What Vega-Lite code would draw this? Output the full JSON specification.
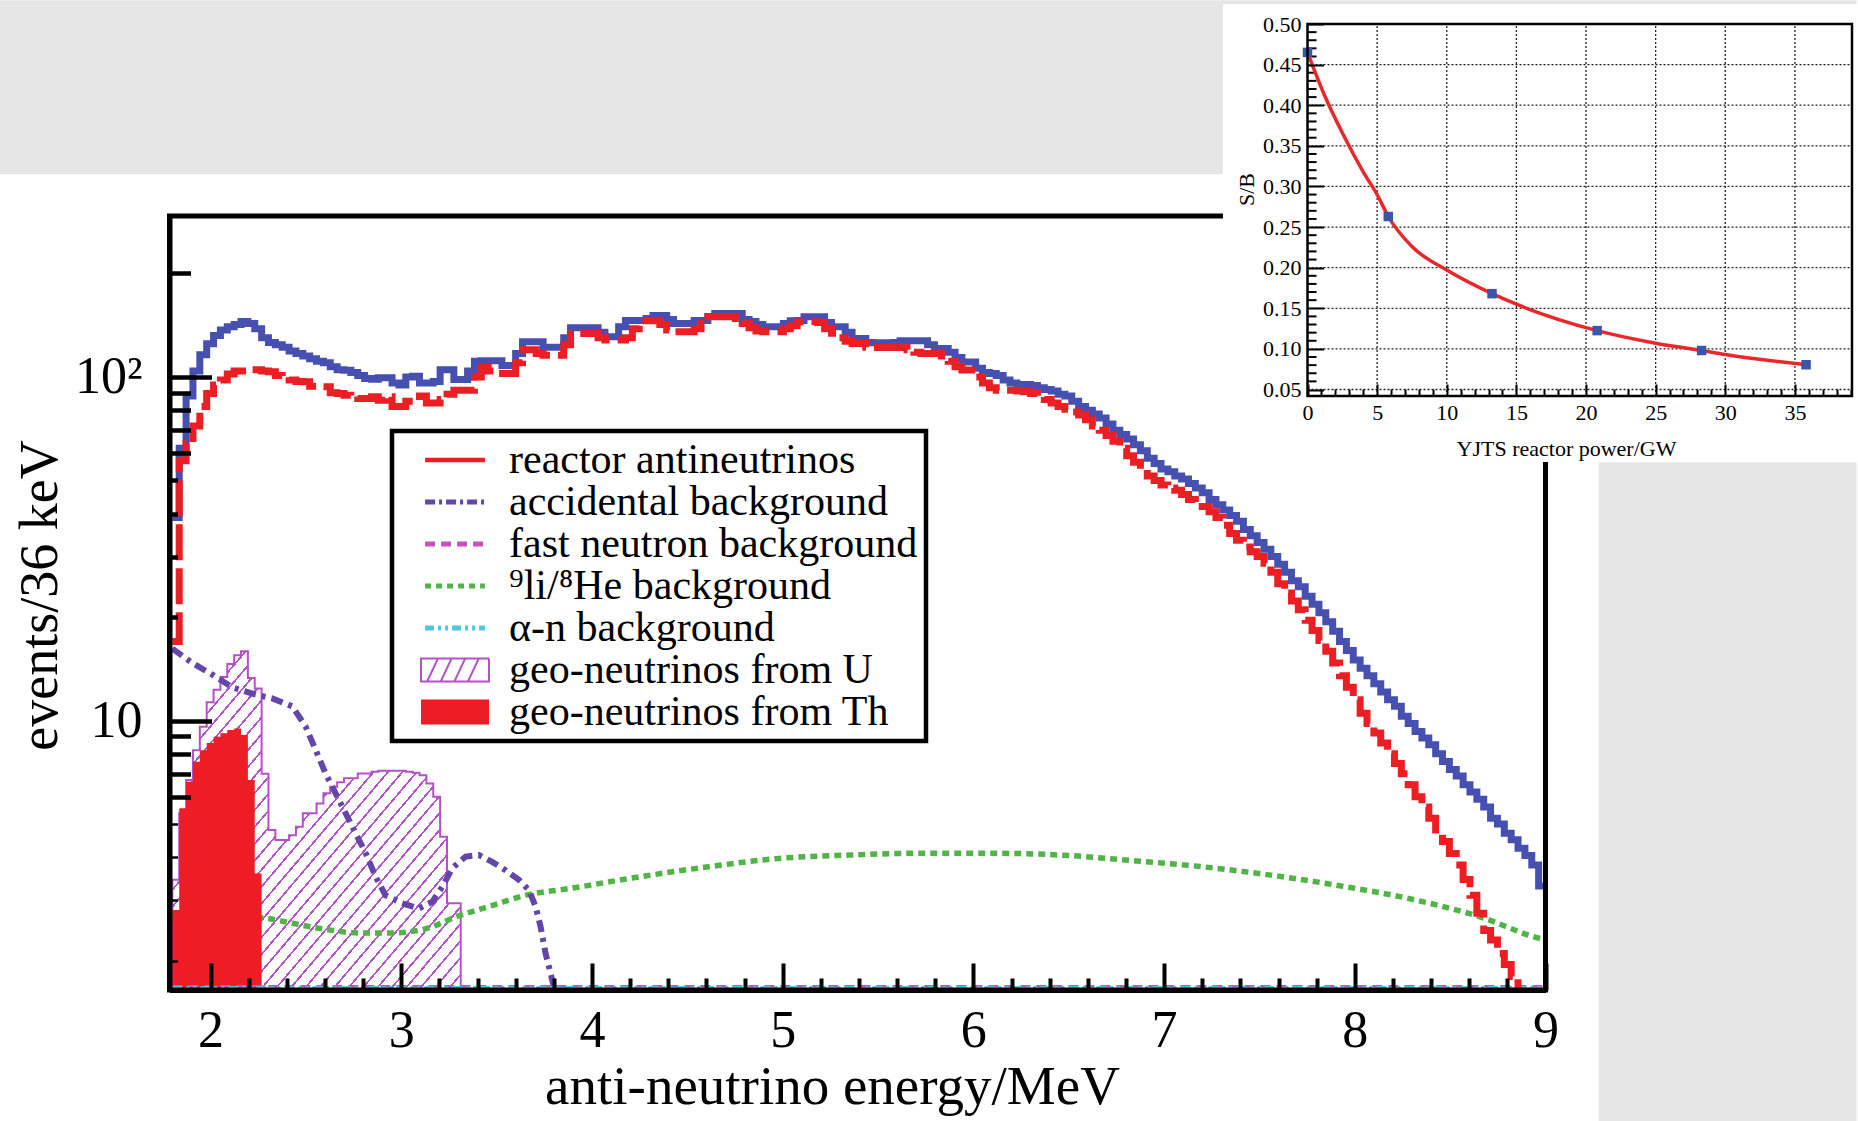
{
"$schema": "https://vega.github.io/schema/vega-lite/v6.json",
"width": 1858, "height": 1121, "autosize": {"type": "none"}, "padding": 0,
"background": "white",
"config": {"view": {"stroke": null}, "font": "Liberation Serif",
  "axis": {"labelFont": "Liberation Serif", "titleFont": "Liberation Serif", "titleFontWeight": "normal", "labelColor": "black", "titleColor": "black", "grid": false},
  "legend": {"strokeWidth": 4.5}},
"datasets": {
"spec": [
{"e":1.8,"t":39,"r":17},{"e":1.836,"t":62,"r":57},{"e":1.872,"t":88,"r":64},{"e":1.908,"t":104,"r":72},{"e":1.944,"t":116,"r":82},{"e":1.98,"t":125,"r":89.5},{"e":2.016,"t":132,"r":94.7},{"e":2.052,"t":137,"r":98},{"e":2.088,"t":140,"r":102},{"e":2.124,"t":142,"r":104},
{"e":2.16,"t":145,"r":104},{"e":2.196,"t":143,"r":105},{"e":2.232,"t":138,"r":105},{"e":2.268,"t":130,"r":104},{"e":2.304,"t":126,"r":103.5},{"e":2.34,"t":124,"r":101},{"e":2.376,"t":122,"r":100},{"e":2.412,"t":119,"r":98},{"e":2.448,"t":117,"r":97},{"e":2.484,"t":115,"r":96.8},
{"e":2.52,"t":113,"r":94},{"e":2.556,"t":111,"r":94},{"e":2.592,"t":110,"r":93.6},{"e":2.628,"t":107,"r":90},{"e":2.664,"t":105,"r":89.5},{"e":2.7,"t":104.5,"r":88.5},{"e":2.736,"t":103,"r":88},{"e":2.772,"t":101,"r":86.6},{"e":2.808,"t":99,"r":86.6},{"e":2.844,"t":98.5,"r":87.5},
{"e":2.88,"t":99.5,"r":85.6},{"e":2.916,"t":99.5,"r":87.5},{"e":2.952,"t":96,"r":82},{"e":2.988,"t":94.7,"r":82},{"e":3.024,"t":100,"r":85},{"e":3.06,"t":100.5,"r":85},{"e":3.096,"t":96,"r":88},{"e":3.132,"t":96,"r":84},{"e":3.168,"t":97,"r":84},{"e":3.204,"t":105,"r":86},
{"e":3.24,"t":105,"r":89},{"e":3.276,"t":98.3,"r":91.5},{"e":3.312,"t":98.3,"r":91.5},{"e":3.348,"t":104,"r":91.5},{"e":3.384,"t":111,"r":100},{"e":3.42,"t":111.4,"r":106.6},{"e":3.456,"t":111.4,"r":104},{"e":3.492,"t":111.4,"r":102.4},{"e":3.528,"t":108,"r":102.4},{"e":3.564,"t":108,"r":102.4},
{"e":3.6,"t":117,"r":110},{"e":3.636,"t":126.5,"r":120},{"e":3.672,"t":126.5,"r":120},{"e":3.708,"t":126.5,"r":117},{"e":3.744,"t":122,"r":115.7},{"e":3.78,"t":122,"r":115.7},{"e":3.816,"t":122,"r":115.7},{"e":3.852,"t":130,"r":124},{"e":3.888,"t":139,"r":133.8},{"e":3.924,"t":139,"r":133.8},
{"e":3.96,"t":139,"r":133.8},{"e":3.996,"t":139,"r":133.8},{"e":4.032,"t":135,"r":130},{"e":4.068,"t":131,"r":128},{"e":4.104,"t":131,"r":128},{"e":4.14,"t":140,"r":128},{"e":4.176,"t":146,"r":130},{"e":4.212,"t":146,"r":138},{"e":4.248,"t":146,"r":145.6},{"e":4.284,"t":148,"r":145.6},
{"e":4.32,"t":151,"r":145.6},{"e":4.356,"t":151,"r":142},{"e":4.392,"t":147,"r":137},{"e":4.428,"t":143,"r":135.3},{"e":4.464,"t":143,"r":135.3},{"e":4.5,"t":143,"r":135.3},{"e":4.536,"t":146,"r":138},{"e":4.572,"t":146,"r":143},{"e":4.608,"t":150,"r":149.6},{"e":4.644,"t":153,"r":149.6},
{"e":4.68,"t":153,"r":149.6},{"e":4.716,"t":153,"r":149.6},{"e":4.752,"t":153,"r":148},{"e":4.788,"t":147,"r":143},{"e":4.824,"t":145,"r":139},{"e":4.86,"t":142,"r":136},{"e":4.896,"t":140,"r":135.3},{"e":4.932,"t":140,"r":135.3},{"e":4.968,"t":140,"r":135.3},{"e":5.004,"t":143,"r":138},
{"e":5.04,"t":145.6,"r":141},{"e":5.076,"t":146,"r":144.7},{"e":5.112,"t":149.6,"r":144.7},{"e":5.148,"t":149.6,"r":144.7},{"e":5.184,"t":149.6,"r":144},{"e":5.22,"t":144,"r":138},{"e":5.256,"t":140,"r":134},{"e":5.292,"t":140,"r":130},{"e":5.328,"t":135,"r":127},{"e":5.364,"t":129.4,"r":125.1},
{"e":5.4,"t":129.4,"r":125.1},{"e":5.436,"t":126,"r":122},{"e":5.472,"t":125.7,"r":121.9},{"e":5.508,"t":125.7,"r":121.9},{"e":5.544,"t":125.7,"r":121.9},{"e":5.58,"t":126,"r":121.9},{"e":5.616,"t":127.4,"r":121.9},{"e":5.652,"t":127.4,"r":120},{"e":5.688,"t":127.4,"r":118},{"e":5.724,"t":127.4,"r":117},
{"e":5.76,"t":124,"r":117},{"e":5.796,"t":121,"r":117},{"e":5.832,"t":121,"r":115},{"e":5.868,"t":118,"r":111},{"e":5.904,"t":114,"r":107},{"e":5.94,"t":110.6,"r":104.7},{"e":5.976,"t":110.6,"r":104.7},{"e":6.012,"t":106,"r":100},{"e":6.048,"t":103,"r":96},{"e":6.084,"t":102.4,"r":93},
{"e":6.12,"t":101,"r":91.5},{"e":6.156,"t":98,"r":91.5},{"e":6.192,"t":96,"r":91.5},{"e":6.228,"t":95,"r":91},{"e":6.264,"t":95,"r":90.5},{"e":6.3,"t":94.5,"r":89.5},{"e":6.336,"t":93,"r":88},{"e":6.372,"t":92,"r":86},{"e":6.408,"t":91,"r":84},{"e":6.444,"t":89,"r":82},
{"e":6.48,"t":88,"r":80.5},{"e":6.516,"t":85,"r":79},{"e":6.552,"t":82,"r":77.5},{"e":6.588,"t":80,"r":75},{"e":6.624,"t":78,"r":72},{"e":6.66,"t":76,"r":70},{"e":6.696,"t":73,"r":67.5},{"e":6.732,"t":70,"r":65},{"e":6.768,"t":68,"r":62},{"e":6.804,"t":66,"r":59},
{"e":6.84,"t":63.5,"r":56.5},{"e":6.876,"t":61,"r":54},{"e":6.912,"t":58,"r":51.5},{"e":6.948,"t":56,"r":50},{"e":6.984,"t":54,"r":48.5},{"e":7.02,"t":53,"r":47.5},{"e":7.056,"t":51.5,"r":46.8},{"e":7.092,"t":50.5,"r":45.5},{"e":7.128,"t":49,"r":44},{"e":7.164,"t":47.5,"r":43},
{"e":7.2,"t":46,"r":42},{"e":7.236,"t":44,"r":40.5},{"e":7.272,"t":42.5,"r":39},{"e":7.308,"t":41,"r":37},{"e":7.344,"t":39.5,"r":35},{"e":7.38,"t":38,"r":33.5},{"e":7.416,"t":36,"r":32},{"e":7.452,"t":34.5,"r":31},{"e":7.488,"t":33,"r":30},{"e":7.524,"t":31.5,"r":28.7},
{"e":7.56,"t":30,"r":27},{"e":7.596,"t":28.5,"r":25},{"e":7.632,"t":27,"r":23.5},{"e":7.668,"t":25.5,"r":22.3},{"e":7.704,"t":24.5,"r":21},{"e":7.74,"t":23,"r":19.6},{"e":7.776,"t":21.8,"r":18.3},{"e":7.812,"t":20.6,"r":17.1},{"e":7.848,"t":19.4,"r":15.9},{"e":7.884,"t":18.2,"r":14.7},
{"e":7.92,"t":17,"r":13.5},{"e":7.956,"t":16,"r":12.5},{"e":7.992,"t":15,"r":11.5},{"e":8.028,"t":14.2,"r":10.5},{"e":8.064,"t":13.5,"r":9.8},{"e":8.1,"t":12.8,"r":9.2},{"e":8.136,"t":12.1,"r":8.6},{"e":8.172,"t":11.5,"r":8},{"e":8.208,"t":11,"r":7.5},{"e":8.244,"t":10.3,"r":7},
{"e":8.28,"t":9.8,"r":6.5},{"e":8.316,"t":9.3,"r":6},{"e":8.352,"t":8.9,"r":5.6},{"e":8.388,"t":8.5,"r":5.2},{"e":8.424,"t":8,"r":4.8},{"e":8.46,"t":7.6,"r":4.45},{"e":8.496,"t":7.2,"r":4.1},{"e":8.532,"t":6.9,"r":3.8},{"e":8.568,"t":6.5,"r":3.45},{"e":8.604,"t":6.2,"r":3.1},
{"e":8.64,"t":5.9,"r":2.75},{"e":8.676,"t":5.6,"r":2.45},{"e":8.712,"t":5.2,"r":2.3},{"e":8.748,"t":5,"r":2.1},{"e":8.784,"t":4.7,"r":1.95},{"e":8.82,"t":4.5,"r":1.8},{"e":8.856,"t":4.25,"r":1.65},{"e":8.892,"t":4.05},{"e":8.928,"t":3.8},{"e":8.964,"t":3.3},
{"e":9,"t":3.3}
],
"geo": [
{"e":1.8,"u":3.44,"th":2.81},{"e":1.836,"u":5.37,"th":5.56},{"e":1.872,"u":6.71,"th":6.64},{"e":1.908,"u":8.2,"th":7.59},{"e":1.944,"u":9.6,"th":8.2},{"e":1.98,"u":11.3,"th":8.6},{"e":2.016,"u":12.3,"th":8.97},{"e":2.052,"u":13.4,"th":9.18},{"e":2.088,"u":14.6,"th":9.38},{"e":2.124,"u":15.5,"th":9.49},
{"e":2.16,"u":15.9,"th":9.08},{"e":2.196,"u":13.3,"th":6.71},{"e":2.232,"u":12.4,"th":3.59},{"e":2.268,"u":7.0,"th":3.59},{"e":2.304,"u":4.8},{"e":2.34,"u":4.49},{"e":2.376,"u":4.49},{"e":2.412,"u":4.64},{"e":2.448,"u":4.91},{"e":2.484,"u":5.37},
{"e":2.52,"u":5.37},{"e":2.556,"u":5.74},{"e":2.592,"u":6.14},{"e":2.628,"u":6.42},{"e":2.664,"u":6.61},{"e":2.7,"u":6.79},{"e":2.736,"u":6.79},{"e":2.772,"u":7.01},{"e":2.808,"u":7.01},{"e":2.844,"u":7.1},
{"e":2.88,"u":7.14},{"e":2.916,"u":7.14},{"e":2.952,"u":7.14},{"e":2.988,"u":7.14},{"e":3.024,"u":7.1},{"e":3.06,"u":7.05},{"e":3.096,"u":6.93},{"e":3.132,"u":6.56},{"e":3.168,"u":6.0},{"e":3.204,"u":4.59},
{"e":3.24,"u":2.94},{"e":3.276,"u":2.94},{"e":3.312,"u":2.94}
],
"acc": [
{"e":1.8,"v":16.2},{"e":1.905,"v":14.7},{"e":2.01,"v":13.6},{"e":2.114,"v":12.5},{"e":2.237,"v":11.9},{"e":2.324,"v":11.6},{"e":2.429,"v":11.0},{"e":2.499,"v":9.6},{"e":2.552,"v":8.2},{"e":2.604,"v":7.0},
{"e":2.656,"v":6.14},{"e":2.709,"v":5.37},{"e":2.761,"v":4.7},{"e":2.814,"v":4.11},{"e":2.866,"v":3.51},{"e":2.918,"v":3.1},{"e":3.005,"v":2.94},{"e":3.093,"v":2.84},{"e":3.163,"v":2.97},{"e":3.215,"v":3.28},
{"e":3.268,"v":3.72},{"e":3.338,"v":4.02},{"e":3.408,"v":4.06},{"e":3.477,"v":3.88},{"e":3.547,"v":3.67},{"e":3.617,"v":3.44},{"e":3.67,"v":3.21},{"e":3.705,"v":2.87},{"e":3.731,"v":2.51},{"e":3.757,"v":2.1},
{"e":3.783,"v":1.84},{"e":3.8,"v":1.68},{"e":3.82,"v":1.65}
],
"li": [
{"e":1.8,"v":2.75},{"e":2.0,"v":2.72},{"e":2.29,"v":2.66},{"e":2.43,"v":2.57},{"e":2.6,"v":2.47},{"e":2.78,"v":2.41},{"e":2.95,"v":2.41},{"e":3.13,"v":2.48},{"e":3.3,"v":2.7},{"e":3.48,"v":2.9},
{"e":3.65,"v":3.1},{"e":3.89,"v":3.25},{"e":4.25,"v":3.51},{"e":4.62,"v":3.76},{"e":4.98,"v":3.97},{"e":5.35,"v":4.06},{"e":5.72,"v":4.11},{"e":6.09,"v":4.11},{"e":6.46,"v":4.06},{"e":6.82,"v":3.92},
{"e":7.19,"v":3.76},{"e":7.56,"v":3.55},{"e":7.93,"v":3.3},{"e":8.3,"v":3.02},{"e":8.66,"v":2.68},{"e":8.96,"v":2.33},{"e":9.0,"v":2.3}
],
"fn": [{"e":1.8,"v":1.685},{"e":9.0,"v":1.685}],
"an": [{"e":1.8,"v":1.675},{"e":9.0,"v":1.675}],
"leg": [{"cat":"reactor antineutrinos"},{"cat":"accidental background"},{"cat":"fast neutron background"},{"cat":"⁹li/⁸He background"},{"cat":"α-n background"},{"cat":"geo-neutrinos from U"},{"cat":"geo-neutrinos from Th"}],
"sbc": [{"p":0,"sb":0.465},{"p":1.25,"sb":0.411},{"p":2.5,"sb":0.366},{"p":4,"sb":0.318},{"p":5,"sb":0.29},{"p":5.8,"sb":0.263},{"p":7.5,"sb":0.226},{"p":10,"sb":0.197},{"p":13.25,"sb":0.168},{"p":15,"sb":0.155},{"p":20.8,"sb":0.1225},{"p":25,"sb":0.107},{"p":28.3,"sb":0.098},{"p":30,"sb":0.093},{"p":35.8,"sb":0.0805}],
"sbp": [{"p":0,"sb":0.465},{"p":5.8,"sb":0.263},{"p":13.25,"sb":0.168},{"p":20.8,"sb":0.1225},{"p":28.3,"sb":0.098},{"p":35.8,"sb":0.0805}],
"gx": [{"g":5},{"g":10},{"g":15},{"g":20},{"g":25},{"g":30},{"g":35}],
"gy": [{"g":0.05},{"g":0.1},{"g":0.15},{"g":0.2},{"g":0.25},{"g":0.3},{"g":0.35},{"g":0.4},{"g":0.45}],
"ty": [{"g":0.06},{"g":0.07},{"g":0.08},{"g":0.09},{"g":0.11},{"g":0.12},{"g":0.13},{"g":0.14},{"g":0.16},{"g":0.17},{"g":0.18},{"g":0.19},{"g":0.21},{"g":0.22},{"g":0.23},{"g":0.24},{"g":0.26},{"g":0.27},{"g":0.28},{"g":0.29},{"g":0.31},{"g":0.32},{"g":0.33},{"g":0.34},{"g":0.36},{"g":0.37},{"g":0.38},{"g":0.39},{"g":0.41},{"g":0.42},{"g":0.43},{"g":0.44},{"g":0.46},{"g":0.47},{"g":0.48},{"g":0.49}]
},
"layer": [
{
"layer": [
{"data": {"values": [{}]},
 "mark": {"type": "rect", "fill": "#e6e6e6", "stroke": null},
 "encoding": {"x": {"datum": 0.8915, "type": "quantitative", "scale": {"type":"linear","domain":[1.785,9],"range":[169.5,1545.5],"nice":false,"zero":false}},
  "x2": {"datum": 10.631},
  "y": {"datum": 1248.6, "type": "quantitative", "scale": {"type":"log","domain":[1.644,294],"range":[990,216],"nice":false}},
  "y2": {"datum": 389.1}}},
{"data": {"values": [{}]},
 "mark": {"type": "rect", "fill": "#e6e6e6", "stroke": null},
 "encoding": {"x": {"datum": 9.2787, "type": "quantitative"},
  "x2": {"datum": 10.631},
  "y": {"datum": 56.5, "type": "quantitative"},
  "y2": {"datum": 0.6835}}},
{"data": {"name": "geo"},
 "mark": {"type": "area", "interpolate": "step-after", "stroke": "#b450c8", "strokeWidth": 2, "fillOpacity": 1,
  "fill": {"gradient": "linear", "x1": 0, "y1": 0, "x2": 1, "y2": 1, "stops": [
{"offset":0,"color":"#ffffff"},
{"offset":0.025,"color":"#ffffff"},{"offset":0.025,"color":"#b450c8"},{"offset":0.029,"color":"#b450c8"},{"offset":0.029,"color":"#ffffff"},
{"offset":0.05,"color":"#ffffff"},{"offset":0.05,"color":"#b450c8"},{"offset":0.054,"color":"#b450c8"},{"offset":0.054,"color":"#ffffff"},
{"offset":0.075,"color":"#ffffff"},{"offset":0.075,"color":"#b450c8"},{"offset":0.079,"color":"#b450c8"},{"offset":0.079,"color":"#ffffff"},
{"offset":0.1,"color":"#ffffff"},{"offset":0.1,"color":"#b450c8"},{"offset":0.104,"color":"#b450c8"},{"offset":0.104,"color":"#ffffff"},
{"offset":0.125,"color":"#ffffff"},{"offset":0.125,"color":"#b450c8"},{"offset":0.129,"color":"#b450c8"},{"offset":0.129,"color":"#ffffff"},
{"offset":0.15,"color":"#ffffff"},{"offset":0.15,"color":"#b450c8"},{"offset":0.154,"color":"#b450c8"},{"offset":0.154,"color":"#ffffff"},
{"offset":0.175,"color":"#ffffff"},{"offset":0.175,"color":"#b450c8"},{"offset":0.179,"color":"#b450c8"},{"offset":0.179,"color":"#ffffff"},
{"offset":0.2,"color":"#ffffff"},{"offset":0.2,"color":"#b450c8"},{"offset":0.204,"color":"#b450c8"},{"offset":0.204,"color":"#ffffff"},
{"offset":0.225,"color":"#ffffff"},{"offset":0.225,"color":"#b450c8"},{"offset":0.229,"color":"#b450c8"},{"offset":0.229,"color":"#ffffff"},
{"offset":0.25,"color":"#ffffff"},{"offset":0.25,"color":"#b450c8"},{"offset":0.254,"color":"#b450c8"},{"offset":0.254,"color":"#ffffff"},
{"offset":0.275,"color":"#ffffff"},{"offset":0.275,"color":"#b450c8"},{"offset":0.279,"color":"#b450c8"},{"offset":0.279,"color":"#ffffff"},
{"offset":0.3,"color":"#ffffff"},{"offset":0.3,"color":"#b450c8"},{"offset":0.304,"color":"#b450c8"},{"offset":0.304,"color":"#ffffff"},
{"offset":0.325,"color":"#ffffff"},{"offset":0.325,"color":"#b450c8"},{"offset":0.329,"color":"#b450c8"},{"offset":0.329,"color":"#ffffff"},
{"offset":0.35,"color":"#ffffff"},{"offset":0.35,"color":"#b450c8"},{"offset":0.354,"color":"#b450c8"},{"offset":0.354,"color":"#ffffff"},
{"offset":0.375,"color":"#ffffff"},{"offset":0.375,"color":"#b450c8"},{"offset":0.379,"color":"#b450c8"},{"offset":0.379,"color":"#ffffff"},
{"offset":0.4,"color":"#ffffff"},{"offset":0.4,"color":"#b450c8"},{"offset":0.404,"color":"#b450c8"},{"offset":0.404,"color":"#ffffff"},
{"offset":0.425,"color":"#ffffff"},{"offset":0.425,"color":"#b450c8"},{"offset":0.429,"color":"#b450c8"},{"offset":0.429,"color":"#ffffff"},
{"offset":0.45,"color":"#ffffff"},{"offset":0.45,"color":"#b450c8"},{"offset":0.454,"color":"#b450c8"},{"offset":0.454,"color":"#ffffff"},
{"offset":0.475,"color":"#ffffff"},{"offset":0.475,"color":"#b450c8"},{"offset":0.479,"color":"#b450c8"},{"offset":0.479,"color":"#ffffff"},
{"offset":0.5,"color":"#ffffff"},{"offset":0.5,"color":"#b450c8"},{"offset":0.504,"color":"#b450c8"},{"offset":0.504,"color":"#ffffff"},
{"offset":0.525,"color":"#ffffff"},{"offset":0.525,"color":"#b450c8"},{"offset":0.529,"color":"#b450c8"},{"offset":0.529,"color":"#ffffff"},
{"offset":0.55,"color":"#ffffff"},{"offset":0.55,"color":"#b450c8"},{"offset":0.554,"color":"#b450c8"},{"offset":0.554,"color":"#ffffff"},
{"offset":0.575,"color":"#ffffff"},{"offset":0.575,"color":"#b450c8"},{"offset":0.579,"color":"#b450c8"},{"offset":0.579,"color":"#ffffff"},
{"offset":0.6,"color":"#ffffff"},{"offset":0.6,"color":"#b450c8"},{"offset":0.604,"color":"#b450c8"},{"offset":0.604,"color":"#ffffff"},
{"offset":0.625,"color":"#ffffff"},{"offset":0.625,"color":"#b450c8"},{"offset":0.629,"color":"#b450c8"},{"offset":0.629,"color":"#ffffff"},
{"offset":0.65,"color":"#ffffff"},{"offset":0.65,"color":"#b450c8"},{"offset":0.654,"color":"#b450c8"},{"offset":0.654,"color":"#ffffff"},
{"offset":0.675,"color":"#ffffff"},{"offset":0.675,"color":"#b450c8"},{"offset":0.679,"color":"#b450c8"},{"offset":0.679,"color":"#ffffff"},
{"offset":0.7,"color":"#ffffff"},{"offset":0.7,"color":"#b450c8"},{"offset":0.704,"color":"#b450c8"},{"offset":0.704,"color":"#ffffff"},
{"offset":0.725,"color":"#ffffff"},{"offset":0.725,"color":"#b450c8"},{"offset":0.729,"color":"#b450c8"},{"offset":0.729,"color":"#ffffff"},
{"offset":0.75,"color":"#ffffff"},{"offset":0.75,"color":"#b450c8"},{"offset":0.754,"color":"#b450c8"},{"offset":0.754,"color":"#ffffff"},
{"offset":0.775,"color":"#ffffff"},{"offset":0.775,"color":"#b450c8"},{"offset":0.779,"color":"#b450c8"},{"offset":0.779,"color":"#ffffff"},
{"offset":0.8,"color":"#ffffff"},{"offset":0.8,"color":"#b450c8"},{"offset":0.804,"color":"#b450c8"},{"offset":0.804,"color":"#ffffff"},
{"offset":0.825,"color":"#ffffff"},{"offset":0.825,"color":"#b450c8"},{"offset":0.829,"color":"#b450c8"},{"offset":0.829,"color":"#ffffff"},
{"offset":0.85,"color":"#ffffff"},{"offset":0.85,"color":"#b450c8"},{"offset":0.854,"color":"#b450c8"},{"offset":0.854,"color":"#ffffff"},
{"offset":0.875,"color":"#ffffff"},{"offset":0.875,"color":"#b450c8"},{"offset":0.879,"color":"#b450c8"},{"offset":0.879,"color":"#ffffff"},
{"offset":0.9,"color":"#ffffff"},{"offset":0.9,"color":"#b450c8"},{"offset":0.904,"color":"#b450c8"},{"offset":0.904,"color":"#ffffff"},
{"offset":0.925,"color":"#ffffff"},{"offset":0.925,"color":"#b450c8"},{"offset":0.929,"color":"#b450c8"},{"offset":0.929,"color":"#ffffff"},
{"offset":0.95,"color":"#ffffff"},{"offset":0.95,"color":"#b450c8"},{"offset":0.954,"color":"#b450c8"},{"offset":0.954,"color":"#ffffff"},
{"offset":0.975,"color":"#ffffff"},{"offset":0.975,"color":"#b450c8"},{"offset":0.979,"color":"#b450c8"},{"offset":0.979,"color":"#ffffff"},
{"offset":1,"color":"#ffffff"}]}},
 "encoding": {"x": {"field": "e", "type": "quantitative"},
  "y": {"field": "u", "type": "quantitative"},
  "y2": {"datum": 1.644}}},
{"data": {"name": "li"},
 "mark": {"type": "line", "interpolate": "monotone", "color": "#50b446", "strokeWidth": 5.5, "strokeDash": [7, 5]},
 "encoding": {"x": {"field": "e", "type": "quantitative"}, "y": {"field": "v", "type": "quantitative"}}},
{"data": {"name": "geo"},
 "mark": {"type": "area", "interpolate": "step-after", "fill": "#ee1c25", "fillOpacity": 1},
 "encoding": {"x": {"field": "e", "type": "quantitative"},
  "y": {"field": "th", "type": "quantitative"},
  "y2": {"datum": 1.644}}},
{"data": {"name": "acc"},
 "mark": {"type": "line", "color": "#6446aa", "strokeWidth": 6, "strokeDash": [12, 6, 4, 6]},
 "encoding": {"x": {"field": "e", "type": "quantitative"}, "y": {"field": "v", "type": "quantitative"}}},
{"data": {"name": "fn"},
 "mark": {"type": "line", "color": "#c84fc0", "strokeWidth": 2.5, "strokeDash": [10, 6]},
 "encoding": {"x": {"field": "e", "type": "quantitative"}, "y": {"field": "v", "type": "quantitative"}}},
{"data": {"name": "an"},
 "mark": {"type": "line", "color": "#50c8dc", "strokeWidth": 2.5, "strokeDash": [10, 4, 3, 4, 3, 4]},
 "encoding": {"x": {"field": "e", "type": "quantitative"}, "y": {"field": "v", "type": "quantitative"}}},
{"data": {"name": "spec"},
 "mark": {"type": "line", "interpolate": "step-after", "color": "#4650b0", "strokeWidth": 7},
 "encoding": {
  "x": {"field": "e", "type": "quantitative",
   "scale": {"type":"linear","domain":[1.785,9],"range":[169.5,1545.5],"nice":false,"zero":false},
   "axis": {"orient": "bottom", "offset": -131,
    "values": [2,2.2,2.4,2.6,2.8,3,3.2,3.4,3.6,3.8,4,4.2,4.4,4.6,4.8,5,5.2,5.4,5.6,5.8,6,6.2,6.4,6.6,6.8,7,7.2,7.4,7.6,7.8,8,8.2,8.4,8.6,8.8,9],
    "labelExpr": "abs(datum.value - round(datum.value)) < 0.01 ? format(datum.value, '.0f') : ''",
    "labelFontSize": 52, "labelPadding": 42.5, "labelFlush": false, "labelOverlap": false,
    "domainColor": "black", "domainWidth": 5, "tickColor": "black", "tickWidth": 4,
    "tickSize": {"condition": {"test": "abs(datum.value - round(datum.value)) < 0.01", "value": -27}, "value": -12},
    "title": "anti-neutrino energy/MeV", "titleFontSize": 55, "titleX": 832, "titleY": 113, "titleBaseline": "alphabetic",
    "zindex": 2}},
  "y": {"field": "t", "type": "quantitative",
   "scale": {"type":"log","domain":[1.644,294],"range":[990,216],"nice":false},
   "axis": {"orient": "left", "offset": -169.5,
    "values": [2,3,4,5,6,7,8,9,10,20,30,40,50,60,70,80,90,100,200],
    "labelExpr": "datum.value == 100 ? '10²' : (datum.value == 10 ? '10' : '')",
    "labelFontSize": 52, "labelPadding": 69.5, "labelFlush": false, "labelOverlap": false,
    "domainColor": "black", "domainWidth": 5, "tickColor": "black",
    "tickWidth": {"condition": {"test": "datum.value >= 2 && datum.value <= 5", "value": 2.5}, "value": 4.5},
    "tickSize": {"condition": [{"test": "datum.value == 10 || datum.value == 100", "value": -42}, {"test": "(datum.value >= 6 && datum.value <= 9) || (datum.value >= 60 && datum.value <= 90) || datum.value == 200", "value": -21}], "value": -8},
    "title": "events/36 keV", "titleFontSize": 54, "titleX": -113.5, "titleY": 595, "titleBaseline": "alphabetic",
    "zindex": 2}}}},
{"data": {"name": "spec"},
 "mark": {"type": "line", "interpolate": "step-after", "color": "#eb1e23", "strokeWidth": 7, "strokeDash": [36, 8]},
 "encoding": {"x": {"field": "e", "type": "quantitative"}, "y": {"field": "r", "type": "quantitative"}}},
{"data": {"values": [{}]},
 "mark": {"type": "rect", "fill": "transparent", "stroke": "black", "strokeWidth": 5},
 "encoding": {"x": {"datum": 1.785, "type": "quantitative"}, "x2": {"datum": 9},
  "y": {"datum": 1.644, "type": "quantitative"}, "y2": {"datum": 294}}},
{"data": {"name": "leg"},
 "mark": {"type": "point", "opacity": 0, "filled": false, "strokeWidth": 2},
 "encoding": {"x": {"datum": 5, "type": "quantitative"}, "y": {"datum": 10, "type": "quantitative"},
  "color": {"field": "cat", "type": "nominal",
   "scale": {"domain": ["reactor antineutrinos","accidental background","fast neutron background","⁹li/⁸He background","α-n background","geo-neutrinos from U","geo-neutrinos from Th"],
    "range": ["#eb1e23","#6446aa","#c84fc0","#50b446","#50c8dc","#b450c8","#ee1c25"]},
   "legend": {"title": null, "orient": "none", "legendX": 392, "legendY": 431, "padding": 8, "rowPadding": 0,
    "labelFont": "Liberation Serif", "labelFontSize": 42, "labelColor": "black", "labelLimit": 1000, "labelOffset": 33,
    "symbolOffset": 34, "symbolSize": 1156, "symbolStrokeWidth": 2, "strokeColor": "black", "fillColor": "white"}},
  "shape": {"field": "cat", "type": "nominal",
   "scale": {"domain": ["reactor antineutrinos","accidental background","fast neutron background","⁹li/⁸He background","α-n background","geo-neutrinos from U","geo-neutrinos from Th"],
    "range": ["M-1.76,-0.07H1.76M-1.76,0H1.76M-1.76,0.07H1.76",
     "M-1.76,-0.09H1.76M-1.76,-0.03H1.76M-1.76,0.03H1.76M-1.76,0.09H1.76",
     "M-1.76,-0.09H1.76M-1.76,-0.03H1.76M-1.76,0.03H1.76M-1.76,0.09H1.76",
     "M-1.76,-0.09H1.76M-1.76,-0.03H1.76M-1.76,0.03H1.76M-1.76,0.09H1.76",
     "M-1.76,-0.09H1.76M-1.76,-0.03H1.76M-1.76,0.03H1.76M-1.76,0.09H1.76",
     "M-2,-0.68H2V0.68H-2Z M-1.64,0.68L-1,-0.68 M-0.84,0.68L-0.2,-0.68 M-0.04,0.68L0.6,-0.68 M0.76,0.68L1.4,-0.68",
     "M-2,-0.68H2M-2,-0.6H2M-2,-0.52H2M-2,-0.44H2M-2,-0.36H2M-2,-0.28H2M-2,-0.2H2M-2,-0.12H2M-2,-0.04H2M-2,0.04H2M-2,0.12H2M-2,0.2H2M-2,0.28H2M-2,0.36H2M-2,0.44H2M-2,0.52H2M-2,0.6H2M-2,0.68H2"]},
   "legend": {"title": null, "orient": "none", "legendX": 392, "legendY": 431, "padding": 8, "rowPadding": 0,
    "labelFont": "Liberation Serif", "labelFontSize": 42, "labelColor": "black", "labelLimit": 1000, "labelOffset": 33,
    "symbolOffset": 34, "symbolSize": 1156, "symbolStrokeWidth": 2, "strokeColor": "black", "fillColor": "white"}},
  "strokeDash": {"field": "cat", "type": "nominal",
   "scale": {"domain": ["reactor antineutrinos","accidental background","fast neutron background","⁹li/⁸He background","α-n background","geo-neutrinos from U","geo-neutrinos from Th"],
    "range": [[1,0],[10,4,3,4],[10,6],[6,5],[9,4,3,4,3,4],[1,0],[1,0]]},
   "legend": {"title": null, "orient": "none", "legendX": 392, "legendY": 431, "padding": 8, "rowPadding": 0,
    "labelFont": "Liberation Serif", "labelFontSize": 42, "labelColor": "black", "labelLimit": 1000, "labelOffset": 33,
    "symbolOffset": 34, "symbolSize": 1156, "symbolStrokeWidth": 2, "strokeColor": "black", "fillColor": "white"}}}}
]
},
{
"layer": [
{"data": {"values": [{}]},
 "mark": {"type": "rect", "fill": "white", "stroke": null},
 "encoding": {"x": {"datum": -6.07, "type": "quantitative", "scale": {"type":"linear","domain":[0,39.1],"range":[1307.5,1852],"nice":false,"zero":false}},
  "x2": {"datum": 39.53},
  "y": {"datum": -0.0393, "type": "quantitative", "scale": {"type":"linear","domain":[0.042,0.5],"range":[396,24],"nice":false,"zero":false}},
  "y2": {"datum": 0.5246}}},
{"data": {"name": "gx"},
 "mark": {"type": "rule", "color": "#222222", "strokeWidth": 1.3, "strokeDash": [2, 2]},
 "encoding": {"x": {"field": "g", "type": "quantitative"}, "y": {"datum": 0.042, "type": "quantitative"}, "y2": {"datum": 0.5}}},
{"data": {"name": "gy"},
 "mark": {"type": "rule", "color": "#222222", "strokeWidth": 1.3, "strokeDash": [2, 2]},
 "encoding": {"y": {"field": "g", "type": "quantitative"}, "x": {"datum": 0, "type": "quantitative"}, "x2": {"datum": 39.1}}},
{"data": {"name": "ty"},
 "mark": {"type": "rule", "color": "black", "strokeWidth": 2},
 "encoding": {"y": {"field": "g", "type": "quantitative"}, "x": {"datum": 0, "type": "quantitative"}, "x2": {"datum": 0.65}}},
{"data": {"name": "sbc"},
 "mark": {"type": "line", "interpolate": "monotone", "color": "#e8282a", "strokeWidth": 3.5},
 "encoding": {
  "x": {"field": "p", "type": "quantitative",
   "scale": {"type":"linear","domain":[0,39.1],"range":[1307.5,1852],"nice":false,"zero":false},
   "axis": {"orient": "bottom", "offset": -725,
    "values": [0,1,2,3,4,5,6,7,8,9,10,11,12,13,14,15,16,17,18,19,20,21,22,23,24,25,26,27,28,29,30,31,32,33,34,35,36,37,38,39],
    "labelExpr": "datum.value % 5 == 0 ? format(datum.value, 'd') : ''",
    "labelFontSize": 22, "labelPadding": 18.5, "labelFlush": false, "labelOverlap": false,
    "domain": false, "tickColor": "black", "tickWidth": 2,
    "tickSize": {"condition": {"test": "datum.value % 5 == 0", "value": -12}, "value": -7},
    "title": "YJTS reactor power/GW", "titleFontSize": 22, "titleX": 1566, "titleY": 59, "titleBaseline": "alphabetic",
    "zindex": 2}},
  "y": {"field": "sb", "type": "quantitative",
   "scale": {"type":"linear","domain":[0.042,0.5],"range":[396,24],"nice":false,"zero":false},
   "axis": {"orient": "left", "offset": -1307.5,
    "values": [0.05,0.1,0.15,0.2,0.25,0.3,0.35,0.4,0.45,0.5],
    "format": ".2f",
    "labelFontSize": 22, "labelPadding": 22.5, "labelFlush": false, "labelOverlap": false,
    "domain": false, "tickColor": "black", "tickWidth": 2, "tickSize": -16,
    "title": "S/B", "titleFontSize": 22, "titleX": -54.5, "titleY": 189, "titleBaseline": "alphabetic",
    "zindex": 2}}}},
{"data": {"name": "sbp"},
 "mark": {"type": "point", "shape": "square", "filled": true, "color": "#3b55a8", "size": 90, "opacity": 1},
 "encoding": {"x": {"field": "p", "type": "quantitative"}, "y": {"field": "sb", "type": "quantitative"}}},
{"data": {"values": [{}]},
 "mark": {"type": "rect", "fill": "transparent", "stroke": "black", "strokeWidth": 2.5},
 "encoding": {"x": {"datum": 0, "type": "quantitative"}, "x2": {"datum": 39.1},
  "y": {"datum": 0.042, "type": "quantitative"}, "y2": {"datum": 0.5}}}
]
}
],
"resolve": {"scale": {"x": "independent", "y": "independent"}, "axis": {"x": "independent", "y": "independent"}}
}
